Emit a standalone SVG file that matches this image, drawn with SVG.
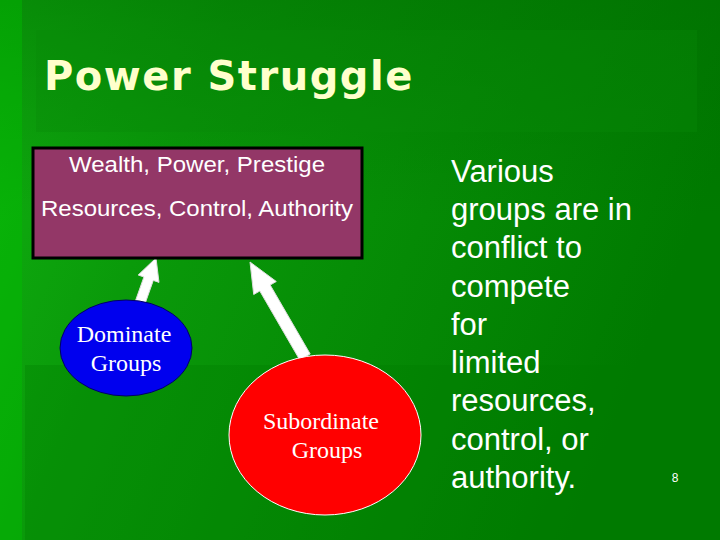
<svg xmlns="http://www.w3.org/2000/svg" width="720" height="540" viewBox="0 0 720 540">
<defs>
<linearGradient id="bg" x1="0" y1="0" x2="1" y2="0.3">
<stop offset="0" stop-color="#10b010"/><stop offset="0.3" stop-color="#0a9a0a"/><stop offset="1" stop-color="#007a00"/>
</linearGradient>
<linearGradient id="bg2" x1="0" y1="0" x2="0" y2="1">
<stop offset="0" stop-color="#006a00" stop-opacity="0.5"/><stop offset="0.4" stop-color="#006a00" stop-opacity="0"/><stop offset="1" stop-color="#006a00" stop-opacity="0"/>
</linearGradient>
<style>
.s{font-family:"Liberation Sans",Arial,sans-serif;fill:#fff}
.r{font-family:"Liberation Serif","Times New Roman",serif;fill:#fff;font-size:24px;text-anchor:middle}
.arr{fill:#fff;stroke:#ddd;stroke-width:1}
</style>
</defs>
<rect width="720" height="540" fill="url(#bg)"/>
<rect width="720" height="540" fill="url(#bg2)"/>
<rect x="0" y="0" width="22" height="540" fill="#00c000" opacity="0.4"/>
<rect x="36" y="30" width="661" height="102" fill="#0a8a0a" opacity="0.35"/>
<rect x="25" y="365" width="695" height="175" fill="#007a00" opacity="0.3"/>
<text x="44" y="90" font-family="DejaVu Sans,sans-serif" font-weight="bold" font-size="40" letter-spacing="1.5" fill="#ffffcc">Power Struggle</text>
<g id="connectors">
<polygon class="arr" points="135.3,301.3 143.9,277 138.2,275 156,258 159,282.4 153.3,280.4 144.7,304.7"/>
<polygon class="arr" points="299.8,360 259.8,291 253.7,294.5 250,262 276.3,281.5 270.2,285 310.2,354"/>
</g>
<g id="box">
<rect x="33" y="148" width="329" height="110" fill="#933767" stroke="#000" stroke-width="3"/>
<text class="s" x="197" y="172" font-size="22" text-anchor="middle" textLength="256" lengthAdjust="spacingAndGlyphs">Wealth, Power, Prestige</text>
<text class="s" x="197" y="216" font-size="22" text-anchor="middle" textLength="312" lengthAdjust="spacingAndGlyphs">Resources, Control, Authority</text>
</g>
<g id="dominate">
<ellipse cx="126" cy="348" rx="66" ry="48" fill="#0000ee" stroke="#000066" stroke-width="1"/>
<text class="r" x="124" y="342">Dominate</text>
<text class="r" x="126" y="371">Groups</text>
</g>
<g id="subordinate">
<ellipse cx="325" cy="435" rx="96" ry="80" fill="#ff0000" stroke="#fff" stroke-width="1"/>
<text class="r" x="321" y="429">Subordinate</text>
<text class="r" x="327" y="458">Groups</text>
</g>
<g id="body" class="s" font-size="31">
<text x="451" y="182">Various</text>
<text x="451" y="220">groups are in</text>
<text x="451" y="258">conflict to</text>
<text x="451" y="297">compete</text>
<text x="451" y="335">for</text>
<text x="451" y="373">limited</text>
<text x="451" y="411">resources,</text>
<text x="451" y="450">control, or</text>
<text x="451" y="488">authority.</text>
</g>
<text class="s" x="675" y="482" font-size="12" text-anchor="middle" fill="#ddffdd">8</text>
</svg>
